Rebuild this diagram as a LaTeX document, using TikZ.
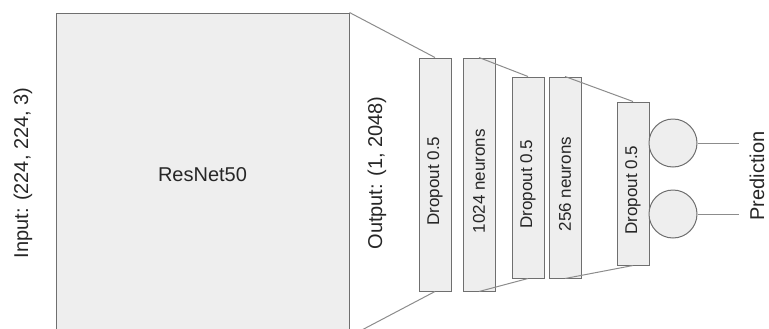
\documentclass[tikz,border=0pt]{standalone}
\usepackage{fontspec}
\setmainfont{Liberation Sans}
\usetikzlibrary{positioning}
\definecolor{layerfill}{HTML}{EEEEEE}
\definecolor{layerdraw}{HTML}{6F6F6F}
\definecolor{linkgray}{HTML}{8C8C8C}
% rotated layer text, sitting a little below the middle
\newcommand{\vtext}[1]{\rotatebox{90}{#1\hspace{10pt}}}

\begin{document}
\begin{tikzpicture}[
    x=0.75pt, y=-0.75pt,
    every node/.style={font=\fontsize{12.75}{15}\selectfont, text=black!85},
    bigtext/.style={font=\fontsize{15}{18}\selectfont},
    layer/.style={draw=layerdraw, fill=layerfill, line width=0.75pt, inner sep=0pt, minimum width=24pt},
    tall/.style={layer, minimum height=174.75pt},
    mid/.style={layer, minimum height=150.75pt},
    short/.style={layer, minimum height=122.25pt},
    neuron/.style={circle, draw=layerdraw, fill=layerfill, line width=0.75pt, minimum size=36pt, inner sep=0pt},
    link/.style={draw=linkgray, line width=0.75pt}
]
    \clip (0,0) rectangle (769,329);

    % Backbone
    \node[layer, bigtext, minimum width=219.75pt, minimum height=242.25pt] (resnet) at (202.5,174.5) {ResNet50};
    \node[bigtext, rotate=90] (inlabel) at (23,173) {Input: (224, 224, 3)};
    \node[bigtext, rotate=90] (outlabel) at (377,173) {Output: (1, 2048)};

    % Head
    \node[tall, right=51.75pt of resnet] (drop1) {\vtext{Dropout 0.5}};
    \node[tall, right=8.25pt of drop1] (dense1) {\vtext{1024 neurons}};
    \node[mid, right=12pt of dense1, yshift=-2.25pt] (drop2) {\vtext{Dropout 0.5}};
    \node[mid, right=3pt of drop2] (dense2) {\vtext{256 neurons}};
    \node[short, right=26.25pt of dense2, yshift=-4.5pt] (drop3) {\vtext{Dropout 0.5}};

    % Output
    \node[neuron] (out1) at (673,143) {};
    \node[neuron] (out2) at (673,214) {};
    \coordinate (end1) at (739,143);
    \coordinate (end2) at (739,214);
    \node[bigtext, rotate=90] (pred) at (757,176) {Prediction};

    % Links
    \draw[link] (resnet.north east) -- (drop1.north);
    \draw[link] (resnet.south east) -- (drop1.south);
    \draw[link] (dense1.north) -- (drop2.north);
    \draw[link] (dense1.south) -- (drop2.south);
    \draw[link] (dense2.north) -- (drop3.north);
    \draw[link] (dense2.south) -- (drop3.south);
    \draw[link] (out1) -- (end1);
    \draw[link] (out2) -- (end2);
\end{tikzpicture}
\end{document}
